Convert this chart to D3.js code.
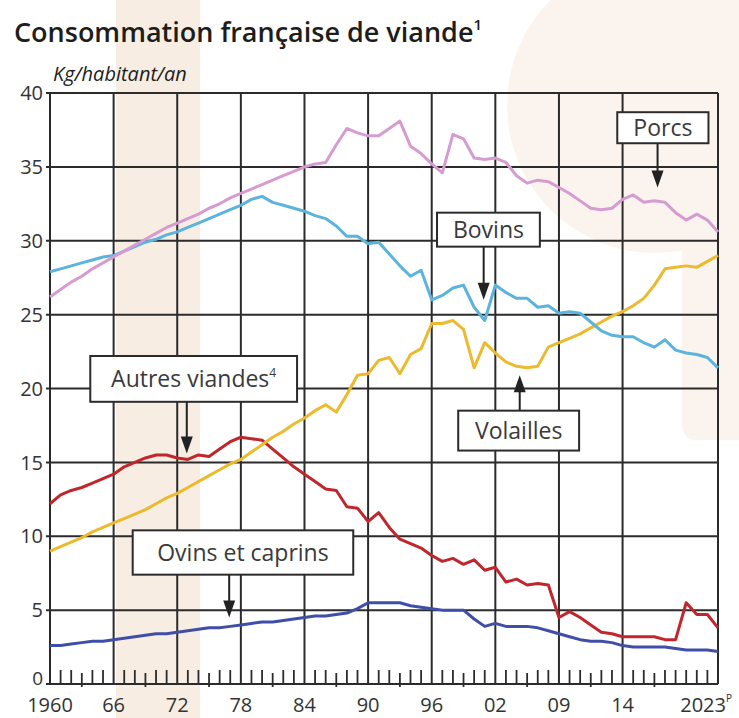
<!DOCTYPE html>
<html>
<head>
<meta charset="utf-8">
<title>Consommation française de viande</title>
<style>
  body { margin: 0; background: #fff; font-family: "Open Sans", sans-serif; }
  svg { display: block; }
</style>
</head>
<body>
<div id="vis"></div>
<script src="https://d3js.org/d3.v7.min.js"></script>
<script>
// kg / habitant / an, 1960 -> 2023
var years = d3.range(1960, 2024);

var porcs = [26.2, 26.7, 27.2, 27.6, 28.1, 28.5, 28.9, 29.3, 29.7, 30.1,
  30.5, 30.9, 31.2, 31.5, 31.8, 32.2, 32.5, 32.9, 33.2, 33.5,
  33.8, 34.1, 34.4, 34.7, 35.0, 35.2, 35.3, 36.5, 37.6, 37.3,
  37.1, 37.1, 37.6, 38.1, 36.4, 35.9, 35.2, 34.6, 37.2, 36.9,
  35.6, 35.5, 35.6, 35.3, 34.4, 33.9, 34.1, 34.0, 33.6, 33.2,
  32.7, 32.2, 32.1, 32.2, 32.8, 33.1, 32.6, 32.7, 32.6, 31.9,
  31.4, 31.8, 31.4, 30.6];

var bovins = [27.9, 28.1, 28.3, 28.5, 28.7, 28.9, 29.0, 29.3, 29.6, 29.9,
  30.1, 30.4, 30.6, 30.9, 31.2, 31.5, 31.8, 32.1, 32.4, 32.8,
  33.0, 32.6, 32.4, 32.2, 32.0, 31.7, 31.5, 31.0, 30.3, 30.3,
  29.8, 29.9, 29.1, 28.3, 27.6, 28.0, 26.0, 26.3, 26.8, 27.0,
  25.5, 24.6, 27.0, 26.5, 26.1, 26.1, 25.5, 25.6, 25.1, 25.2,
  25.1, 24.5, 23.9, 23.6, 23.5, 23.5, 23.1, 22.8, 23.3, 22.6,
  22.4, 22.3, 22.1, 21.4];

var volailles = [9.0, 9.3, 9.6, 9.9, 10.3, 10.6, 10.9, 11.2, 11.5, 11.8,
  12.2, 12.6, 12.9, 13.3, 13.7, 14.1, 14.5, 14.9, 15.2, 15.7,
  16.2, 16.7, 17.1, 17.6, 18.0, 18.5, 18.9, 18.4, 19.6, 20.9,
  21.0, 21.9, 22.1, 21.0, 22.3, 22.7, 24.4, 24.4, 24.6, 24.0,
  21.4, 23.1, 22.4, 21.8, 21.5, 21.4, 21.5, 22.8, 23.1, 23.4,
  23.7, 24.1, 24.5, 24.9, 25.2, 25.6, 26.1, 27.0, 28.1, 28.2,
  28.3, 28.2, 28.6, 29.0];

var autres = [12.2, 12.8, 13.1, 13.3, 13.6, 13.9, 14.2, 14.7, 15.0, 15.3,
  15.5, 15.5, 15.3, 15.2, 15.5, 15.4, 15.9, 16.4, 16.7, 16.6,
  16.5, 15.9, 15.3, 14.7, 14.2, 13.7, 13.2, 13.1, 12.0, 11.9,
  11.0, 11.6, 10.6, 9.8, 9.5, 9.2, 8.7, 8.3, 8.5, 8.1,
  8.4, 7.7, 7.9, 6.9, 7.1, 6.7, 6.8, 6.7, 4.5, 4.9,
  4.5, 4.0, 3.5, 3.4, 3.2, 3.2, 3.2, 3.2, 3.0, 3.0,
  5.5, 4.7, 4.7, 3.8];

var ovins = [2.6, 2.6, 2.7, 2.8, 2.9, 2.9, 3.0, 3.1, 3.2, 3.3,
  3.4, 3.4, 3.5, 3.6, 3.7, 3.8, 3.8, 3.9, 4.0, 4.1,
  4.2, 4.2, 4.3, 4.4, 4.5, 4.6, 4.6, 4.7, 4.8, 5.1,
  5.5, 5.5, 5.5, 5.5, 5.3, 5.2, 5.1, 5.0, 5.0, 5.0,
  4.4, 3.9, 4.1, 3.9, 3.9, 3.9, 3.8, 3.6, 3.4, 3.2,
  3.0, 2.9, 2.9, 2.8, 2.6, 2.5, 2.5, 2.5, 2.5, 2.4,
  2.3, 2.3, 2.3, 2.2];

var xTickYears = [1960, 1966, 1972, 1978, 1984, 1990, 1996, 2002, 2008, 2014, 2023];
var xTickLabels = ["1960", "66", "72", "78", "84", "90", "96", "02", "09", "14", "2023"];
var yTicks = [0, 5, 10, 15, 20, 25, 30, 35, 40];

var series = [
  {name: "Autres viandes", values: autres, color: "#c0272d"},
  {name: "Volailles", values: volailles, color: "#ecba2e"},
  {name: "Bovins", values: bovins, color: "#5cb3de"},
  {name: "Porcs", values: porcs, color: "#d69cd2"},
  {name: "Ovins et caprins", values: ovins, color: "#3f4ea8"}
];

// callouts: box = [year0, year1, valueTop, valueBottom], arrow tip = [year, value]
var callouts = [
  {label: "Porcs", sup: "", box: [2013.5, 2022.1, 38.7, 36.6], tip: [2017.3, 33.6]},
  {label: "Bovins", sup: "", box: [1996.5, 2006.2, 31.9, 29.6], tip: [2000.9, 26.0]},
  {label: "Autres viandes", sup: "4", box: [1963.8, 1983.3, 22.2, 19.1], tip: [1972.9, 15.6]},
  {label: "Ovins et caprins", sup: "", box: [1967.8, 1988.6, 10.4, 7.4], tip: [1976.9, 4.5]},
  {label: "Volailles", sup: "", box: [1998.5, 2009.9, 18.5, 15.8], tip: [2004.3, 20.9]}
];

var W = 739, H = 718;
var svg = d3.select("#vis").append("svg").attr("width", W).attr("height", H);

var x = d3.scaleLinear().domain([1960, 2023]).range([50, 718]);
var y = d3.scaleLinear().domain([0, 40]).range([684, 93]);

// faint watermark shapes behind the chart
var bg = svg.append("g");
bg.append("rect").attr("x", 116).attr("y", 0).attr("width", 84).attr("height", H)
  .attr("fill", "#f7ede3");
bg.append("circle").attr("cx", 655).attr("cy", 105).attr("r", 148).attr("fill", "#fbf4ee");
bg.append("rect").attr("x", 682).attr("y", 0).attr("width", 80).attr("height", 440)
  .attr("rx", 14).attr("fill", "#fbf4ee");

// title
var title = svg.append("text").attr("x", 14).attr("y", 42)
  .attr("font-size", 27).attr("font-weight", 600).attr("fill", "#1d1d1b")
  .text("Consommation française de viande");
title.append("tspan").attr("font-size", 15).attr("dy", -12).text("1");

svg.append("text").attr("x", 53).attr("y", 81)
  .attr("font-size", 20).attr("font-style", "italic").attr("fill", "#1d1d1b")
  .text("Kg/habitant/an");

// grid
var grid = svg.append("g").attr("stroke", "#2b2b2b").attr("stroke-width", 2);
grid.selectAll(".h").data(yTicks).enter().append("line")
  .attr("x1", x(1960) - 4).attr("x2", x(2023))
  .attr("y1", function(d) { return y(d); }).attr("y2", function(d) { return y(d); });
grid.selectAll(".v").data(xTickYears).enter().append("line")
  .attr("x1", function(d) { return x(d); }).attr("x2", function(d) { return x(d); })
  .attr("y1", y(40)).attr("y2", y(0));

// yearly minor ticks on the bottom axis
var minor = years.filter(function(d) { return xTickYears.indexOf(d) < 0; });
svg.append("g").attr("stroke", "#2b2b2b").attr("stroke-width", 1.8)
  .selectAll("line").data(minor).enter().append("line")
  .attr("x1", function(d) { return x(d); }).attr("x2", function(d) { return x(d); })
  .attr("y1", function(d) { return (d - 1960) % 6 === 3 ? y(0) - 11 : y(0) - 14; })
  .attr("y2", function(d) { return (d - 1960) % 6 === 3 ? y(0) + 3 : y(0); });

// axis labels
svg.append("g").selectAll("text").data(yTicks).enter().append("text")
  .attr("x", 43).attr("y", function(d) { return d === 0 ? y(d) - 6 : y(d); }).attr("dy", "0.36em")
  .attr("text-anchor", "end").attr("font-size", function(d) { return d === 0 ? 19 : 20; })
  .attr("fill", "#333")
  .text(function(d) { return d; });

var xl = svg.append("g").selectAll("text").data(xTickYears).enter().append("text")
  .attr("x", function(d, i) { return i === xTickYears.length - 1 ? x(d) + 14 : x(d); })
  .attr("y", 712)
  .attr("text-anchor", function(d, i) { return i === xTickYears.length - 1 ? "end" : "middle"; })
  .attr("font-size", 20).attr("fill", "#333")
  .text(function(d, i) { return xTickLabels[i]; });
xl.filter(function(d, i) { return i === xTickYears.length - 1; })
  .append("tspan").attr("font-size", 10).attr("dy", -10).text("P");

// lines
var line = d3.line()
  .x(function(d, i) { return x(years[i]); })
  .y(function(d) { return y(d); });

svg.append("g").selectAll("path").data(series).enter().append("path")
  .attr("d", function(d) { return line(d.values); })
  .attr("fill", "none")
  .attr("stroke", function(d) { return d.color; })
  .attr("stroke-width", 3)
  .attr("stroke-linejoin", "round");

// callouts
var co = svg.append("g").selectAll("g").data(callouts).enter().append("g");
co.append("line")
  .attr("x1", function(d) { return x(d.tip[0]); }).attr("x2", function(d) { return x(d.tip[0]); })
  .attr("y1", function(d) { return d.tip[1] > d.box[2] ? y(d.box[2]) : y(d.box[3]); })
  .attr("y2", function(d) { return d.tip[1] > d.box[2] ? y(d.tip[1]) + 14 : y(d.tip[1]) - 14; })
  .attr("stroke", "#222").attr("stroke-width", 2);
co.append("path")
  .attr("d", function(d) {
    var tx = x(d.tip[0]), ty = y(d.tip[1]);
    var s = d.tip[1] > d.box[2] ? 1 : -1;
    return "M" + tx + "," + ty + "L" + (tx - 6) + "," + (ty + s * 17) + "L" + (tx + 6) + "," + (ty + s * 17) + "Z";
  })
  .attr("fill", "#222");
co.append("rect")
  .attr("x", function(d) { return x(d.box[0]); })
  .attr("y", function(d) { return y(d.box[2]); })
  .attr("width", function(d) { return x(d.box[1]) - x(d.box[0]); })
  .attr("height", function(d) { return y(d.box[3]) - y(d.box[2]); })
  .attr("fill", "#fff").attr("stroke", "#2b2b2b").attr("stroke-width", 2);
var ct = co.append("text")
  .attr("x", function(d) { return (x(d.box[0]) + x(d.box[1])) / 2; })
  .attr("y", function(d) { return (y(d.box[2]) + y(d.box[3])) / 2; })
  .attr("dy", "0.36em").attr("text-anchor", "middle")
  .attr("font-size", 23).attr("fill", "#3a3a3a")
  .text(function(d) { return d.label; });
ct.filter(function(d) { return d.sup; }).append("tspan")
  .attr("font-size", 12).attr("dy", -10).text(function(d) { return d.sup; });
</script>
</body>
</html>
